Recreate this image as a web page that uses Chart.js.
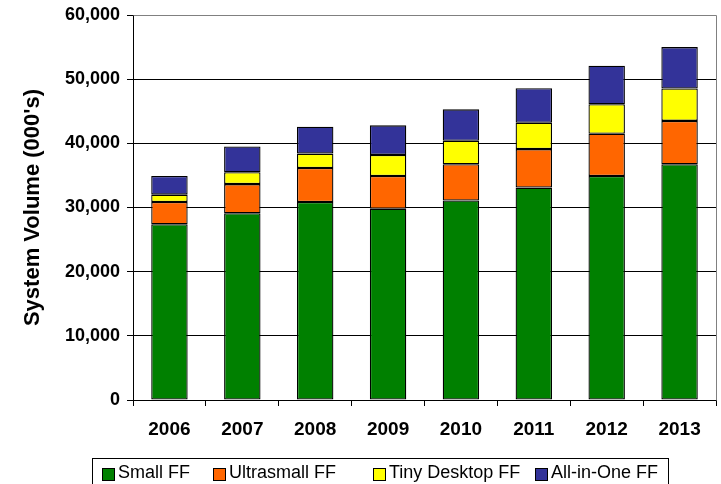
<!DOCTYPE html>
<html>
<head>
<meta charset="utf-8">
<script src="https://cdn.jsdelivr.net/npm/chart.js@4/dist/chart.umd.min.js"></script>
<style>
  html, body { margin: 0; padding: 0; background: #fff; }
  #wrap { position: relative; width: 721px; height: 484px; overflow: hidden; }
  #legend {
    position: absolute; left: 92px; top: 458px; width: 577px; height: 40px;
    border: 1px solid #000; box-sizing: border-box;
    font-family: "Liberation Sans", Arial, sans-serif; font-size: 18px; color: #000;
  }
  .item { position: absolute; top: 0; height: 24px; white-space: nowrap; }
  .sw { position: absolute; top: 9px; width: 11px; height: 11px; border: 1px solid #000; }
  .lbl { position: absolute; top: 3px; left: 16px; line-height: 20px; }
</style>
</head>
<body>
<div id="wrap">
  <canvas id="c" width="721" height="484"></canvas>
  <div id="legend"></div>
</div>
<script>
// Form-factor system volumes per year, in thousands of units
const years = ['2006', '2007', '2008', '2009', '2010', '2011', '2012', '2013'];
const smallFF       = [27400, 29100, 30850, 29800, 31100, 33100, 34900, 36750];
const ultrasmallFF  = [3450, 4550, 5300, 5100, 5650, 6000, 6600, 6750];
const tinyDesktopFF = [1150, 1850, 2250, 3300, 3650, 4100, 4600, 5050];
const allInOneFF    = [2900, 4000, 4200, 4600, 4900, 5400, 6000, 6450];
const seriesNames = ['Small FF', 'Ultrasmall FF', 'Tiny Desktop FF', 'All-in-One FF'];
const seriesColors = ['#008000', '#FF6600', '#FFFF00', '#333399'];
const seriesValues = [smallFF, ultrasmallFF, tinyDesktopFF, allInOneFF];

const FONT = '"Liberation Sans", Arial, sans-serif';

// Gray frame along the top and right edges of the plot area
const frame = {
  id: 'frame',
  afterDraw(chart) {
    const { ctx, chartArea: a } = chart;
    ctx.save();
    ctx.strokeStyle = '#808080';
    ctx.lineWidth = 1;
    ctx.beginPath();
    ctx.moveTo(Math.round(a.left) + 0.5, Math.round(a.top) + 0.5);
    ctx.lineTo(Math.round(a.right) + 0.5, Math.round(a.top) + 0.5);
    ctx.lineTo(Math.round(a.right) + 0.5, Math.round(a.bottom) + 0.5);
    ctx.stroke();
    ctx.restore();
  }
};

new Chart(document.getElementById('c'), {
  type: 'bar',
  data: {
    labels: years,
    datasets: seriesValues.map((vals, i) => ({
      label: seriesNames[i],
      data: vals,
      backgroundColor: seriesColors[i],
      borderColor: '#000',
      borderWidth: 1.3,
      borderSkipped: false,
      barPercentage: 0.5,
      categoryPercentage: 1.0
    }))
  },
  options: {
    responsive: false,
    animation: false,
    devicePixelRatio: 1,
    layout: { autoPadding: false, padding: { top: 15, right: 5, left: 0, bottom: 0 } },
    plugins: { legend: { display: false }, tooltip: { enabled: false } },
    scales: {
      x: {
        stacked: true,
        grid: { drawOnChartArea: false, tickLength: 6, tickColor: '#000', offset: true },
        border: { color: '#000', width: 1 },
        ticks: { color: '#000', padding: 12, font: { family: FONT, size: 19, weight: 'bold' } },
        afterFit(scale) { scale.height = 84; }
      },
      y: {
        stacked: true,
        min: 0,
        max: 60000,
        ticks: {
          stepSize: 10000,
          color: '#000',
          padding: 7,
          font: { family: FONT, size: 18, weight: 'bold', lineHeight: 0.85 },
          callback: v => v.toLocaleString('en-US')
        },
        grid: {
          color: c => (c.tick && c.tick.value === 60000) ? '#808080' : '#000',
          tickColor: '#000',
          tickLength: 6,
          lineWidth: 1
        },
        border: { color: '#000', width: 1 },
        title: {
          display: true,
          text: "System Volume (000's)",
          color: '#000',
          font: { family: FONT, size: 22, weight: 'bold' },
          padding: { top: 20, bottom: 0 }
        },
        afterFit(scale) { scale.width = 133; }
      }
    }
  },
  plugins: [frame]
});

// Legend row in a framed box below the chart
const legend = document.getElementById('legend');
const itemLeft = [9, 120, 280, 442];
seriesNames.forEach((name, i) => {
  const it = document.createElement('div');
  it.className = 'item';
  it.style.left = itemLeft[i] + 'px';
  const sw = document.createElement('div');
  sw.className = 'sw';
  sw.style.background = seriesColors[i];
  const lb = document.createElement('span');
  lb.className = 'lbl';
  lb.textContent = name;
  it.appendChild(sw);
  it.appendChild(lb);
  legend.appendChild(it);
});
</script>
</body>
</html>
